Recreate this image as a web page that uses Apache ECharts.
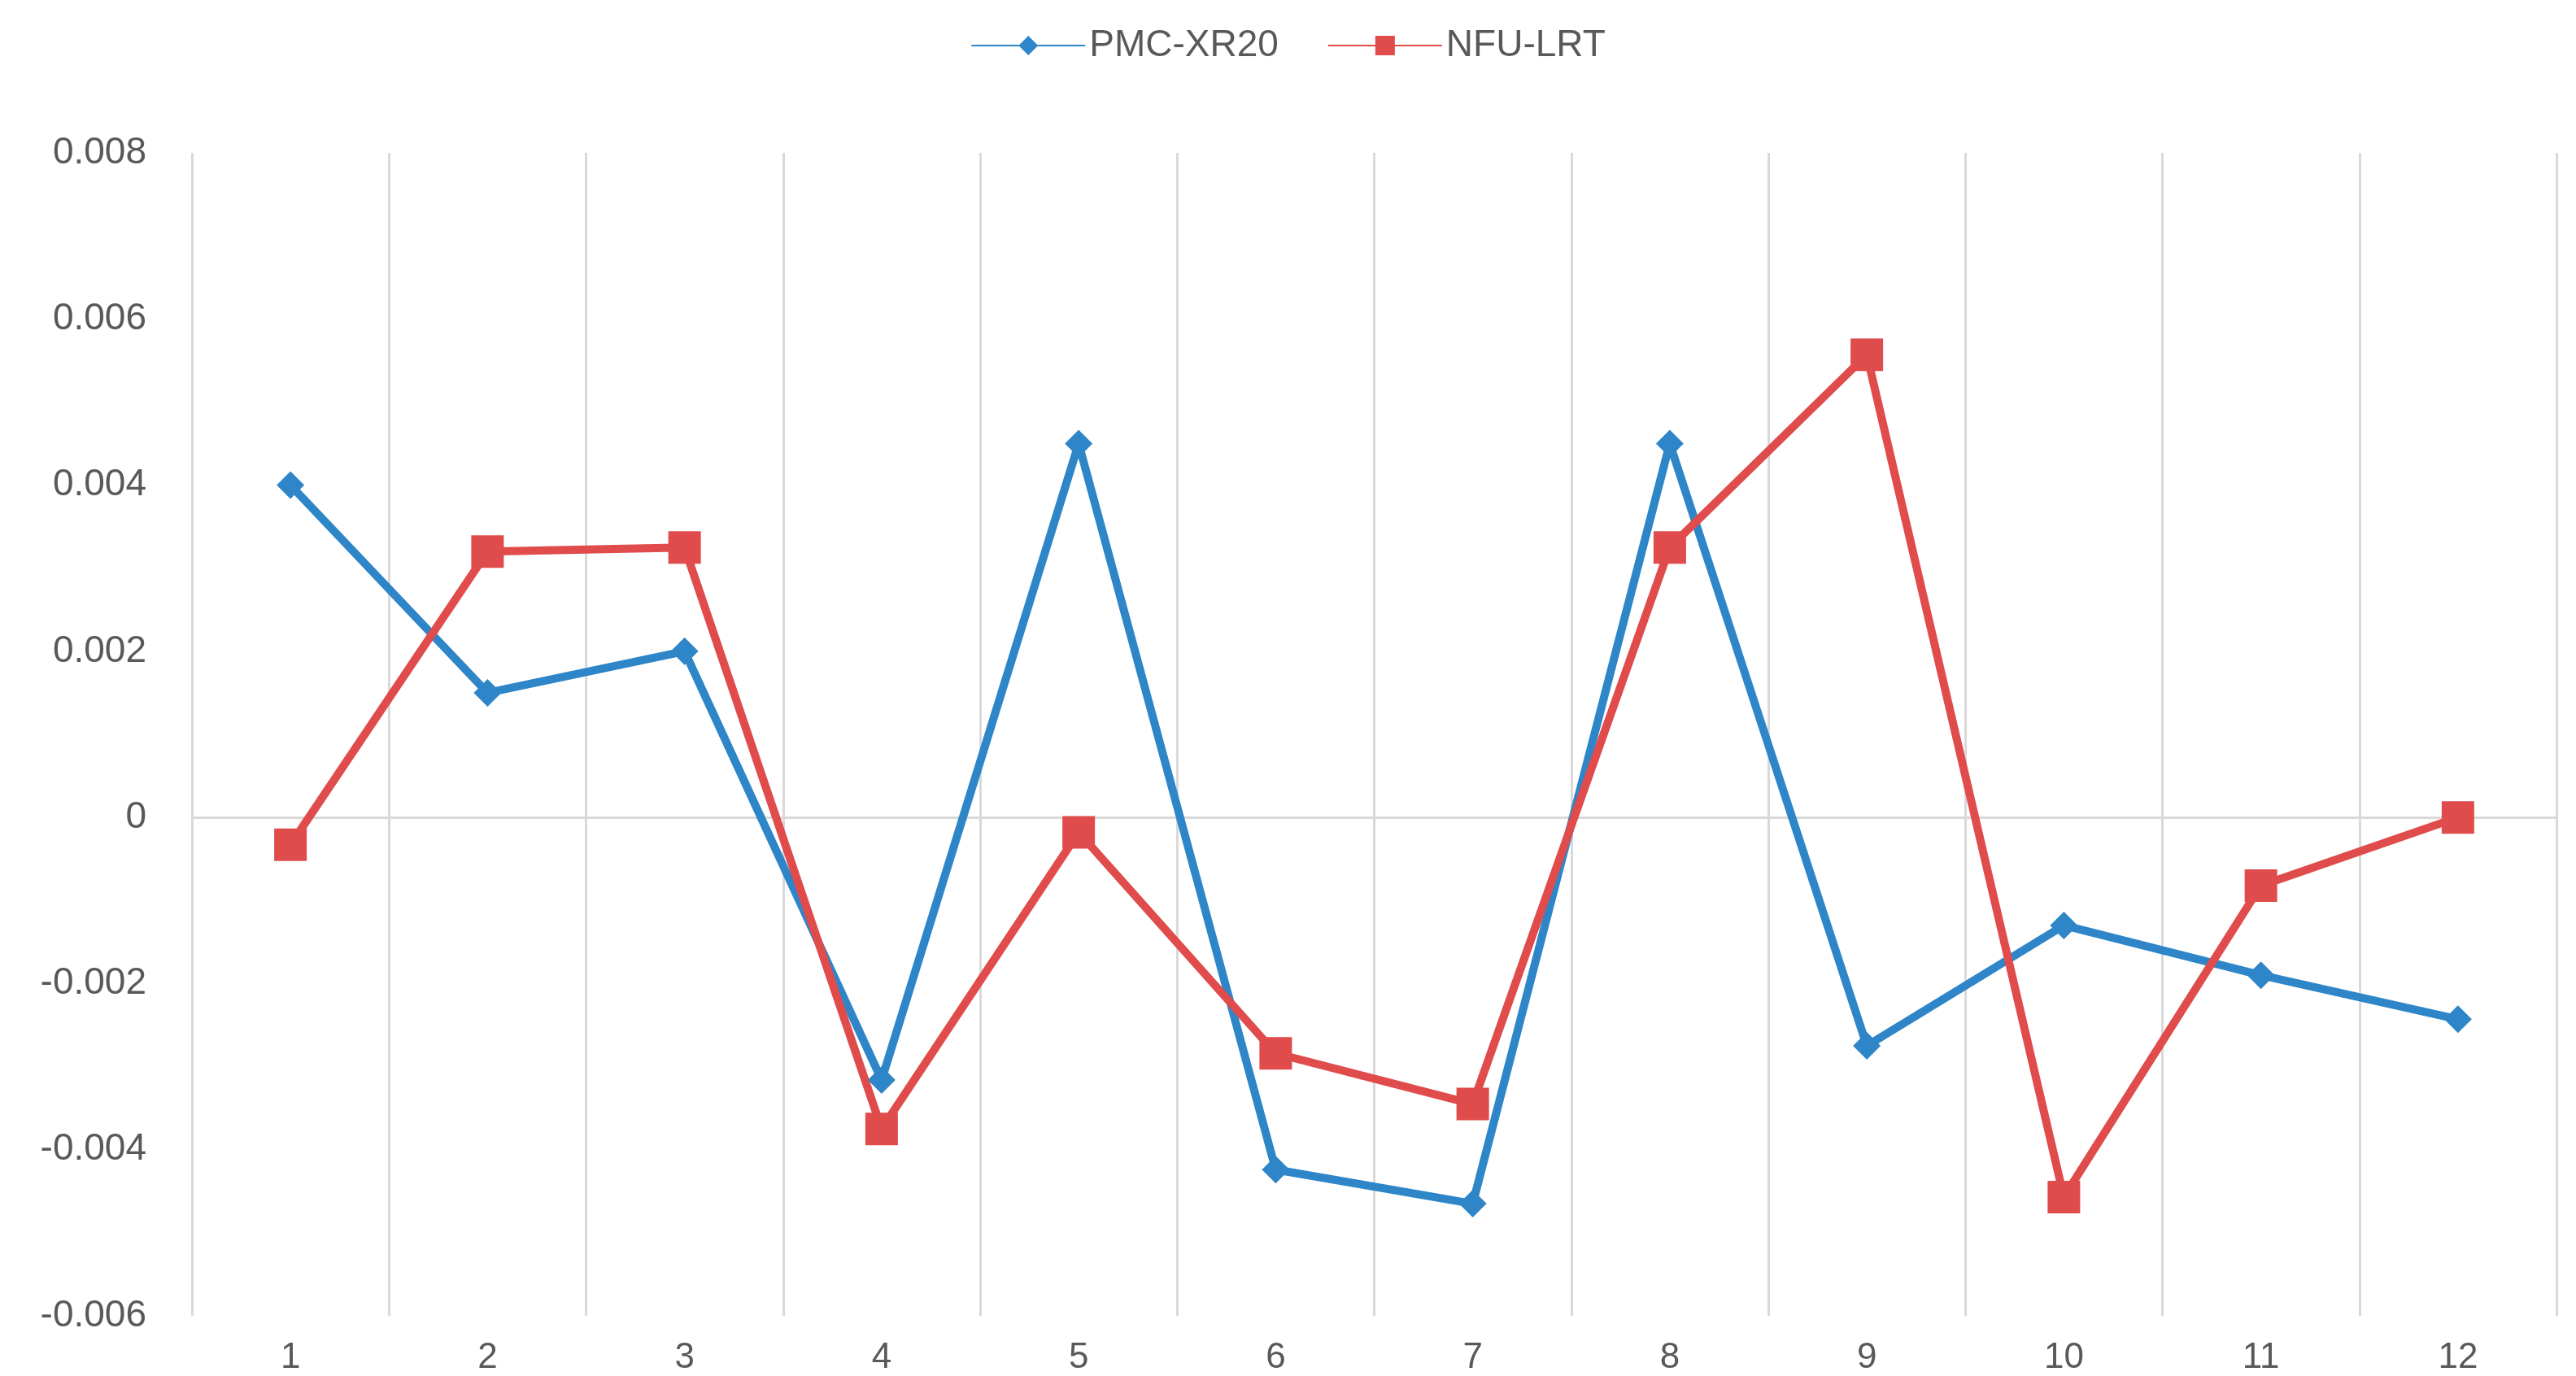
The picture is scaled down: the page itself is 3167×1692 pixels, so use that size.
<!DOCTYPE html>
<html><head><meta charset="utf-8">
<script src="https://cdn.jsdelivr.net/npm/echarts@6/dist/echarts.min.js"></script>
<style>html,body{margin:0;padding:0;background:#fff}#c{width:3167px;height:1692px}</style>
</head><body><div id="c"></div>
<script>
const categories = ['1','2','3','4','5','6','7','8','9','10','11','12'];
const pmc = [0.0040,0.0015,0.0020,-0.00316,0.0045,-0.00424,-0.00465,0.0045,-0.00275,-0.0013,-0.0019,-0.00243];
const nfu = [-0.00033,0.0032,0.00325,-0.00375,-0.00018,-0.00284,-0.00345,0.00325,0.00557,-0.00457,-0.00082,0.0];
const yTicks = {min:-0.006,max:0.008,interval:0.002};
const chart = echarts.init(document.getElementById('c'));
chart.setOption({
  animation:false,
  legend:{top:28,left:'center',itemWidth:140,itemHeight:30,itemGap:60,
    textStyle:{fontSize:46,color:'#595959',fontFamily:'Liberation Sans'}},
  grid:{left:236,right:24,top:188,bottom:60,containLabel:false},
  xAxis:{type:'category',data:categories,boundaryGap:true,
    axisLine:{onZero:true,lineStyle:{color:'#D9D9D9',width:3}},
    axisTick:{show:false},
    axisLabel:{fontSize:44,color:'#595959',margin:30,fontFamily:'Liberation Sans'},
    splitLine:{show:true,lineStyle:{color:'#D9D9D9',width:3}}},
  yAxis:{type:'value',min:yTicks.min,max:yTicks.max,interval:yTicks.interval,
    axisLine:{show:false},axisTick:{show:false},splitLine:{show:false},
    axisLabel:{fontSize:46,color:'#595959',margin:56,fontFamily:'Liberation Sans',
      formatter:v=>v===0?'0':v.toFixed(3)}},
  series:[
    {name:'PMC-XR20',type:'line',data:pmc,symbol:'diamond',symbolSize:34,
      itemStyle:{color:'#2E86C8'},lineStyle:{width:10,color:'#2E86C8'}},
    {name:'NFU-LRT',type:'line',data:nfu,symbol:'rect',symbolSize:40,
      itemStyle:{color:'#E04B4B'},lineStyle:{width:10,color:'#E04B4B'}}
  ]
});
</script></body></html>
